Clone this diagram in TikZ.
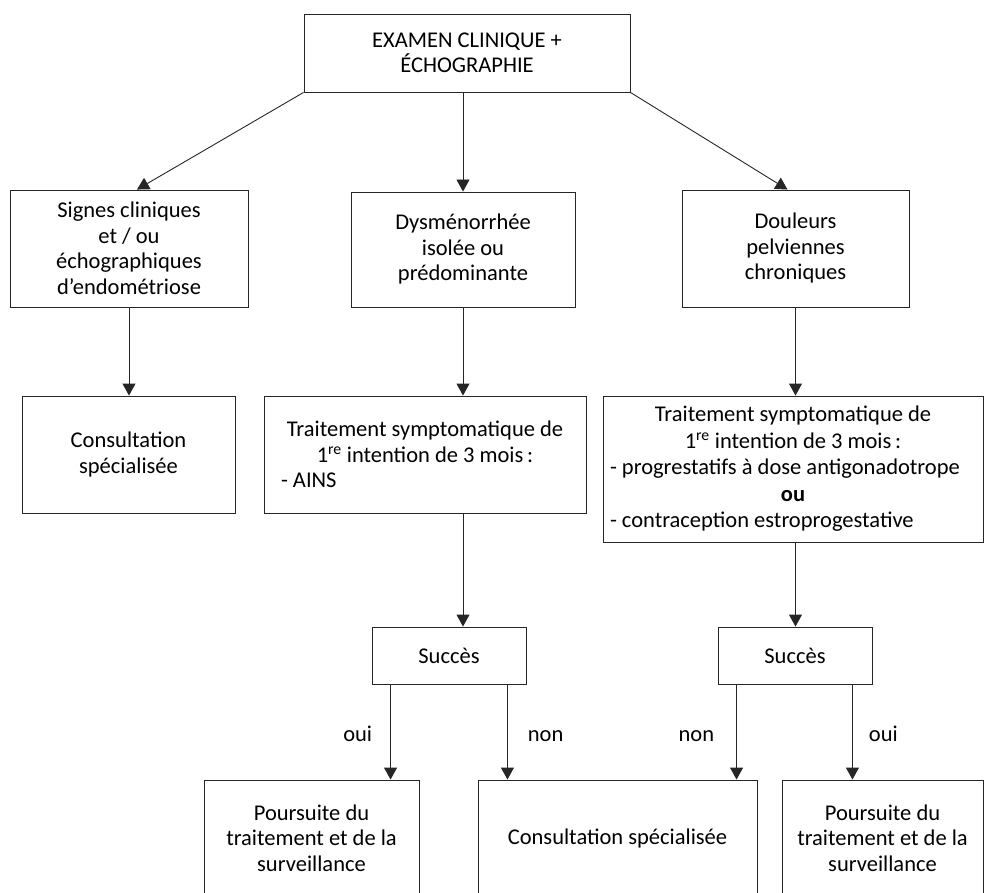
\documentclass[tikz,border=0pt]{standalone}
\usepackage{fontspec}
\setmainfont{Carlito}
\usetikzlibrary{arrows.meta}

\begin{document}
\begin{tikzpicture}[x=1pt,y=-1pt,
	box/.style={draw=black!85,line width=0.9pt,inner sep=4pt,align=flush center,
		font=\fontsize{22.5}{25.5}\selectfont},
	arr/.style={draw=black!85,line width=0.9pt,-{Triangle[width=13pt,length=12pt]}},
	lbl/.style={inner sep=0pt,font=\fontsize{22.5}{25.5}\selectfont}]
	\useasboundingbox (0,0) rectangle (985,893);
	
	\node[box,minimum width=326,minimum height=78] (exam) at (467,53) {EXAMEN CLINIQUE +\\ÉCHOGRAPHIE};
	
	\node[box,minimum width=238,minimum height=117] (signes) at (129,248.5) {Signes cliniques\\et / ou\\échographiques\\d’endométriose};
	\node[box,minimum width=224,minimum height=115] (dysm) at (463,249.5) {Dysménorrhée\\isolée ou\\prédominante};
	\node[box,minimum width=227,minimum height=117] (doul) at (795.5,248.5) {Douleurs\\pelviennes\\chroniques};
	
	\node[box,minimum width=213,minimum height=117] (consA) at (128.5,454.5) {Consultation\\spécialisée};
	\node[box,text width=314,minimum height=117] (traitE) at (425,454.5) {Traitement symptomatique de\\1\textsuperscript{re} intention de 3 mois\,:\\\makebox[\linewidth][l]{\hspace{13pt}- AINS}};
	\node[box,text width=372,minimum height=146,font=\fontsize{22.5}{26.5}\selectfont] (traitF) at (793,469) {Traitement symptomatique de\\1\textsuperscript{re} intention de 3 mois\,:\\\makebox[\linewidth][l]{\hspace{3pt}- progrestatifs à dose antigonadotrope}\\\textbf{ou}\\\makebox[\linewidth][l]{\hspace{3pt}- contraception estroprogestative}};
	
	\node[box,minimum width=154,minimum height=57] (succ1) at (449,655.5) {Succès};
	\node[box,minimum width=154,minimum height=57] (succ2) at (795,655.5) {Succès};
	
	\node[box,minimum width=215,minimum height=116] (pours1) at (311.5,838) {Poursuite du\\traitement et de la\\surveillance};
	\node[box,minimum width=279,minimum height=116] (consM) at (617.5,838) {Consultation spécialisée};
	\node[box,minimum width=201,minimum height=116] (pours2) at (882.5,838) {Poursuite du\\traitement et de la\\surveillance};
	
	\draw[arr] (exam.south west) -- ([xshift=8]signes.north);
	\draw[arr] (exam.south -| dysm.north) -- (dysm.north);
	\draw[arr] (exam.south east) -- ([xshift=-8]doul.north);
	
	\draw[arr] (signes.south) -- (consA.north -| signes.south);
	\draw[arr] (dysm.south) -- (traitE.north -| dysm.south);
	\draw[arr] (doul.south) -- (traitF.north -| doul.south);
	
	\draw[arr] (traitE.south -| dysm.south) -- (succ1.north -| dysm.south);
	\draw[arr] (traitF.south -| doul.south) -- (succ2.north -| doul.south);
	
	\coordinate (s1oui) at ([xshift=19]succ1.south west);
	\coordinate (s1non) at ([xshift=-19]succ1.south east);
	\coordinate (s2non) at ([xshift=19]succ2.south west);
	\coordinate (s2oui) at ([xshift=-20]succ2.south east);
	\draw[arr] (s1oui) -- (s1oui |- pours1.north) node[lbl,pos=0.6,anchor=base east,xshift=-18pt] (oui1) {oui};
	\draw[arr] (s1non) -- (s1non |- consM.north) node[lbl,pos=0.6,anchor=base west,xshift=20pt] (non1) {non};
	\draw[arr] (s2non) -- (s2non |- consM.north) node[lbl,pos=0.6,anchor=base east,xshift=-22pt] (non2) {non};
	\draw[arr] (s2oui) -- (s2oui |- pours2.north) node[lbl,pos=0.6,anchor=base west,xshift=16pt] (oui2) {oui};
\end{tikzpicture}
\end{document}
